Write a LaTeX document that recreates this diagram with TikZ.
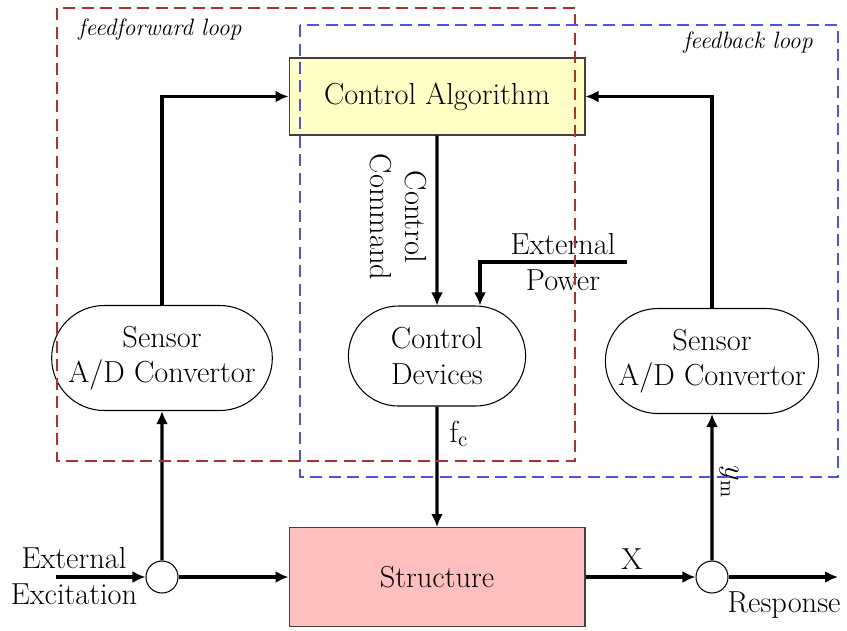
\documentclass[tikz,border=0pt]{standalone}
\usetikzlibrary{arrows.meta,shapes.misc}
\definecolor{algfill}{HTML}{FFFFC6}
\definecolor{strfill}{HTML}{FFBFBF}
\definecolor{ffred}{HTML}{B03030}
\definecolor{fbblue}{HTML}{5050F0}

\begin{document}
\begin{tikzpicture}[x=0.02cm, y=-0.02cm, font=\fontsize{17.3}{20}\selectfont,
  block/.style={draw=black!75, line width=0.6pt, minimum width=5.92cm},
  sensorbox/.style={rounded rectangle, draw, line width=0.6pt, fill=white, align=center, minimum width=4.4cm, minimum height=2.1cm},
  sumpt/.style={circle, draw, line width=0.6pt, fill=white, minimum size=0.64cm, inner sep=0pt},
  sig/.style={line width=1.9pt, -{Latex[length=0.26cm,width=0.24cm]}},
  loopbox/.style={line width=0.6pt, dash pattern=on 0.24cm off 0.13cm},
  looplabel/.style={font=\fontsize{13.5}{16}\selectfont\itshape}]
  \useasboundingbox (0,0) rectangle (847,630);

  % blocks
  \node[block, fill=algfill, minimum height=1.54cm] (alg) at (437,96.5) {Control Algorithm};
  \node[block, fill=strfill, minimum height=1.98cm] (str) at (437,577) {Structure};
  \node[sensorbox] (lsens) at (162,358) {Sensor\\A/D Convertor};
  \node[sensorbox, minimum width=3.78cm, minimum height=2cm] (dev) at (437,356) {Control\\Devices};
  \node[sensorbox, minimum width=4.5cm] (rsens) at (712,361) {Sensor\\A/D Convertor};
  \node[sumpt] (lsum) at (162,577) {};
  \node[sumpt] (rsum) at (712,577) {};
  \coordinate (exc) at (56,577);
  \coordinate (resp) at (838,577);
  \coordinate (pwr) at (627,262);

  % signals
  \draw[sig] (exc) -- (lsum);
  \draw[sig] (lsum) -- (str);
  \draw[sig] (str) -- (rsum);
  \draw[sig] (rsum) -- (resp);
  \draw[sig] (lsum) -- (lsens);
  \draw[sig] (rsum) -- (rsens);
  \draw[sig] (lsens.north) |- (alg.west);
  \draw[sig] (rsens.north) |- (alg.east);
  \draw[sig] (alg) -- (dev);
  \draw[sig] (pwr) -| ([xshift=0.86cm]dev.north);
  \draw[sig] (dev) -- (str);

  % labels
  \node[align=center] (exclab) at (74,576) {External\\Excitation};
  \node (xlab) at (632,559) {X};
  \node (resplab) at (784,605) {Response};
  \node[align=center] (pwrlab) at (563,262) {External\\Power};
  \node[rotate=-90, align=center] (cmdlab) at (398,217) {Control\\Command};
  \node (fclab) at (459,434) {f\textsubscript{c}};
  \node[rotate=-90] (ymlab) at (729,482) {$y_{\mathrm{m}}$};

  % loops
  \draw[loopbox, ffred] (57,8) rectangle (575,461);
  \draw[loopbox, fbblue] (300,25) rectangle (838,477);
  \node[looplabel] (fflab) at (160,30) {feedforward loop};
  \node[looplabel] (fblab) at (748,43) {feedback loop};
\end{tikzpicture}
\end{document}
